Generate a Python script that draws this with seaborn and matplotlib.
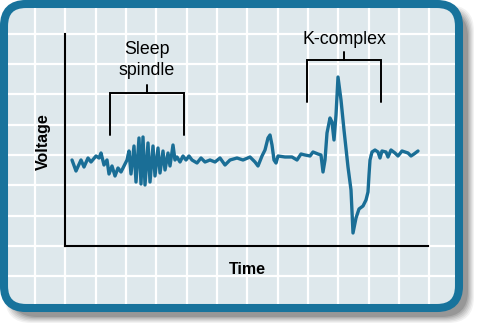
import matplotlib
matplotlib.use("Agg")
import matplotlib.pyplot as plt
from matplotlib.patches import FancyBboxPatch
import seaborn as sns
import pandas as pd
import numpy as np

sns.set_theme(style="white")
plt.rcParams['font.family'] = ['Liberation Sans', 'DejaVu Sans']

# ---- data (time, voltage) ----
time = [7, 11, 16, 19, 23, 26, 31, 34, 36, 39, 42, 44, 47, 50, 53, 56, 60, 62,
        64, 66, 69, 71, 74, 76, 78, 80, 83, 85, 88, 90, 93, 95, 98, 100,
        103, 105, 108, 110, 112, 115, 118, 121, 124, 127, 132, 136,
        140, 145, 150, 155, 160, 165, 172, 178, 185, 190, 193, 197, 200, 203,
        205, 207, 209, 211, 213, 220, 227, 232, 236, 240, 245, 248, 253, 256,
        258, 260, 262, 265, 267, 269, 271, 273, 276, 279, 283, 286, 288, 291,
        294, 298, 301, 303, 304, 305, 307, 310, 313, 315, 317, 321, 323, 326,
        330, 333, 337, 340, 343, 346, 349, 353]
voltage = [86, 75, 86, 79, 88, 84, 90, 88, 93, 81, 86, 72, 80, 70, 78, 74, 82, 86,
           95, 72, 100, 64, 108, 62, 109, 61, 103, 64, 100, 70, 98, 73, 95, 76,
           93, 80, 101, 86, 89, 84, 90, 86, 90, 86, 83, 88,
           84, 86, 84, 88, 81, 86, 88, 86, 89, 84, 80, 90, 96, 108,
           111, 101, 86, 83, 90, 89, 89, 86, 92, 91, 90, 94, 92, 91,
           74, 86, 113, 128, 124, 106, 131, 169, 146, 116, 79, 56, 13, 28,
           37, 40, 46, 54, 71, 86, 94, 96, 94, 88, 95, 94, 89, 96,
           93, 90, 95, 94, 93, 90, 92, 95]

annotations = ["Sleep\nspindle", "K-complex"]
bracket_start = [45, 242]
bracket_end = [119, 316]
bracket_low = [111, 144]
bracket_high = [153, 186]
label_level = [186, 206]

x_label = "Time"
y_label = "Voltage"

W, H = 487, 335
BORDER = "#18739c"
FILL = "#dee8ec"
WAVE = "#1a6e96"

fig = plt.figure(figsize=(W / 100, H / 100), dpi=100)

# background panel in pixel coordinates
bg = fig.add_axes([0, 0, 1, 1])
bg.set_xlim(0, W)
bg.set_ylim(H, 0)
bg.axis("off")

# soft shadow
for i, a in enumerate([0.05, 0.06, 0.07, 0.08, 0.10, 0.12]):
    grow = 14 - 2.4 * i
    sh = FancyBboxPatch((12 - grow / 2, 12 - grow / 2), 455 + grow, 304 + grow,
                        boxstyle="round,pad=0,rounding_size=26",
                        facecolor="black", edgecolor="none", alpha=a)
    bg.add_patch(sh)

panel = FancyBboxPatch((4, 4), 455, 304, boxstyle="round,pad=0,rounding_size=22",
                       facecolor=FILL, edgecolor=BORDER, linewidth=5.8)
bg.add_patch(panel)

inner = FancyBboxPatch((8, 8), 447, 296, boxstyle="round,pad=0,rounding_size=18",
                       facecolor="none", edgecolor="none")
bg.add_patch(inner)
step = 30.33
for gx in np.arange(4.7, W, step):
    ln, = bg.plot([gx, gx], [0, H], color="white", lw=1.6, zorder=2)
    ln.set_clip_path(inner)
for gy in np.arange(3.3, H, step):
    ln, = bg.plot([0, W], [gy, gy], color="white", lw=1.6, zorder=2)
    ln.set_clip_path(inner)

# main chart axes
ax = fig.add_axes([65 / W, (H - 246) / H, 363 / W, 212 / H])
ax.patch.set_alpha(0)
df = pd.DataFrame({"time": time, "voltage": voltage})
sns.lineplot(data=df, x="time", y="voltage", ax=ax, color=WAVE, lw=2.4,
             sort=False, estimator=None)
ax.set_xlim(0, 363)
ax.set_ylim(0, 212)
ax.set_xticks([])
ax.set_yticks([])
ax.set_xlabel("")
ax.set_ylabel("")
for s in ["top", "right"]:
    ax.spines[s].set_visible(False)
for s in ["left", "bottom"]:
    ax.spines[s].set_color("black")
    ax.spines[s].set_linewidth(1.5)

for txt, x0, x1, lo, hi, lv in zip(annotations, bracket_start, bracket_end,
                                   bracket_low, bracket_high, label_level):
    xc = (x0 + x1) / 2
    ax.plot([x0, x0, x1, x1], [lo, hi, hi, lo], color="black", lw=1.4,
            solid_joinstyle="miter", clip_on=False)
    ax.plot([xc, xc], [hi, hi + 8], color="black", lw=1.4, clip_on=False)
    ax.text(xc, lv, txt, ha="center", va="center", fontsize=12.8,
            linespacing=1.35, color="black")

fig.text(247 / W, 1 - 270 / H, x_label, ha="center", va="center",
         fontsize=11.5, fontweight="bold", color="black")
fig.text(43 / W, 1 - 142 / H, y_label, ha="center", va="center",
         fontsize=11.5, fontweight="bold", rotation=90, color="black")

fig.savefig("out.png", dpi=100)
